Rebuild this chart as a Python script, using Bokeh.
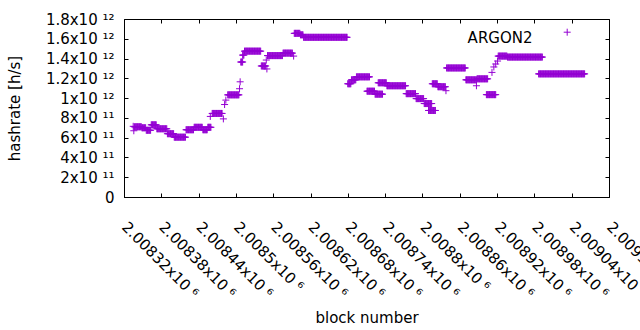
import math
from bokeh.plotting import figure
from bokeh.models import (Range1d, FixedTicker, LinearAxis, CustomJSTickFormatter, Label)
from bokeh.embed import file_html
from bokeh.resources import INLINE

# ---------------- data ----------------
# The hashrate is piecewise constant: each run covers consecutive blocks
# [run_first .. run_last] that all share the same estimated hashrate.
run_first = [2008334, 2008335, 2008336, 2008348, 2008355, 2008363, 2008372, 2008389,
             2008400, 2008419, 2008432, 2008446, 2008454, 2008458, 2008461, 2008479,
             2008481, 2008483, 2008486, 2008505, 2008506, 2008507, 2008510, 2008513,
             2008540, 2008548, 2008549, 2008550, 2008575, 2008592, 2008593, 2008603,
             2008608, 2008679, 2008685, 2008693, 2008710, 2008723, 2008728, 2008742,
             2008773, 2008789, 2008802, 2008809, 2008815, 2008824, 2008837, 2008838,
             2008869, 2008886, 2008887, 2008902, 2008911, 2008914, 2008917, 2008920,
             2008921, 2008936, 2008986]
run_last = [2008334, 2008335, 2008347, 2008354, 2008362, 2008371, 2008388, 2008399,
            2008418, 2008431, 2008445, 2008453, 2008459, 2008458, 2008477, 2008479,
            2008481, 2008483, 2008504, 2008505, 2008506, 2008510, 2008512, 2008539,
            2008547, 2008548, 2008549, 2008574, 2008590, 2008592, 2008602, 2008607,
            2008678, 2008684, 2008692, 2008714, 2008722, 2008735, 2008741, 2008772,
            2008788, 2008801, 2008814, 2008820, 2008823, 2008836, 2008837, 2008868,
            2008886, 2008886, 2008904, 2008917, 2008911, 2008914, 2008917, 2008920,
            2008935, 2008992, 2009060]
run_hashrate = [7.2e11, 6.75e11, 7.15e11, 7.05e11, 6.8e11, 7.35e11, 6.95e11, 6.45e11,
                6.1e11, 6.85e11, 7.1e11, 6.85e11, 7.1e11, 8.2e11, 8.5e11, 7.95e11,
                9.4e11, 9.85e11, 10.38e11, 11.0e11, 11.7e11, 13.7e11, 14.4e11, 14.8e11,
                13.3e11, 13.9e11, 13.0e11, 14.35e11, 14.6e11, 14.3e11, 16.6e11, 16.45e11,
                16.2e11, 11.5e11, 11.9e11, 12.2e11, 10.75e11, 10.45e11, 11.6e11, 11.3e11,
                10.5e11, 10.0e11, 9.5e11, 8.8e11, 11.5e11, 11.2e11, 10.8e11, 13.1e11,
                11.9e11, 11.3e11, 12.0e11, 10.4e11, 12.65e11, 13.2e11, 13.5e11, 13.8e11,
                14.3e11, 14.2e11, 12.5e11]

xtick_blocks = [2008320, 2008380, 2008440, 2008500, 2008560, 2008620, 2008680,
                2008740, 2008800, 2008860, 2008920, 2008980, 2009040, 2009100]
xtick_mantissa = ["2.00832x10", "2.00838x10", "2.00844x10", "2.0085x10", "2.00856x10",
                  "2.00862x10", "2.00868x10", "2.00874x10", "2.0088x10", "2.00886x10",
                  "2.00892x10", "2.00898x10", "2.00904x10", "2.0091x10"]
xtick_exponent = ["6"] * len(xtick_mantissa)

ytick_values = [0, 2e11, 4e11, 6e11, 8e11, 1e12, 1.2e12, 1.4e12, 1.6e12, 1.8e12]
ytick_mantissa = ["0", "2x10", "4x10", "6x10", "8x10", "1x10", "1.2x10", "1.4x10",
                  "1.6x10", "1.8x10"]
ytick_exponent = ["", "11", "11", "11", "11", "12", "12", "12", "12", "12"]

series_name = "ARGON2"
x_title = "block number"
y_title = "hashrate [h/s]"

# ---------------- expand runs into one point per block ----------------
blocks, rates = [], []
for a, b, v in zip(run_first, run_last, run_hashrate):
    for blk in range(a, b + 1):
        blocks.append(blk)
        rates.append(v)

X0, X1 = xtick_blocks[0], xtick_blocks[-1]
Y0, Y1 = ytick_values[0], ytick_values[-1]

FONT = "DejaVu Sans"
FS = "15px"
COLOR = "#9400D3"
SUPER = str.maketrans("0123456789", "\u2070\u00b9\u00b2\u00b3\u2074\u2075\u2076\u2077\u2078\u2079")


def tick_text(m, e):
    return m + (" " + e.translate(SUPER) if e else "")


p = figure(width=640, height=330, output_backend="svg", toolbar_location=None,
           x_range=Range1d(X0, X1), y_range=Range1d(Y0, Y1),
           x_axis_type=None, y_axis_type=None,
           min_border_left=124, min_border_right=31, min_border_top=19,
           min_border_bottom=119)
p.outline_line_color = None
p.background_fill_color = "white"
p.border_fill_color = "white"

# The formatter looks labels up by tick value; extra (duplicate) ticks after the
# real ones get an empty label, so the last real slanted label is not pushed
# back inside the canvas and is simply cut at the edge, as in the reference.
LOOKUP = """
const i = vals.indexOf(tick);
return (index < vals.length && i >= 0) ? texts[i] : '';
"""


def make_axis(ticks, texts=None):
    if texts is None:
        fmt = CustomJSTickFormatter(code="return ''")
        tick_list = list(ticks)
    else:
        fmt = CustomJSTickFormatter(args=dict(vals=list(ticks), texts=texts), code=LOOKUP)
        tick_list = list(ticks) + [ticks[0]]
    ax = LinearAxis(ticker=FixedTicker(ticks=tick_list), formatter=fmt,
                    major_tick_in=4, major_tick_out=0,
                    minor_tick_in=0, minor_tick_out=0,
                    axis_line_color="black", major_tick_line_color="black",
                    axis_line_width=1, major_tick_line_width=1,
                    major_label_text_font=FONT, major_label_text_font_size=FS,
                    major_label_text_color="black",
                    axis_label_text_font=FONT, axis_label_text_font_size=FS,
                    axis_label_text_font_style="normal", axis_label_text_color="black")
    if texts is None:
        ax.major_label_standoff = 0
    return ax


xlabel_texts = [tick_text(m, e) for m, e in zip(xtick_mantissa, xtick_exponent)]
ylabel_texts = [tick_text(m, e) for m, e in zip(ytick_mantissa, ytick_exponent)]

bottom = make_axis(xtick_blocks, xlabel_texts)
bottom.major_label_orientation = -math.pi / 4
bottom.major_label_standoff = 27
bottom.axis_label = x_title
bottom.axis_label_standoff = -2
left = make_axis(ytick_values, ylabel_texts)
left.major_label_standoff = 10
left.axis_label = y_title
left.axis_label_standoff = 19

p.add_layout(bottom, "below")
p.add_layout(make_axis(xtick_blocks), "above")
p.add_layout(left, "left")
p.add_layout(make_axis(ytick_values), "right")

p.scatter(blocks, rates, marker="cross", size=7, line_color=COLOR, line_width=1)

# ---------------- key (label left of sample, gnuplot style) ----------------
p.add_layout(Label(x=X1, y=Y1, x_offset=-77, y_offset=-18.3, text=series_name,
                   text_align="right", text_baseline="alphabetic",
                   text_font=FONT, text_font_size=FS, text_color="black"))
key_x = X1 - (X1 - X0) * 42.3 / 485.0
key_y = Y1 - (Y1 - Y0) * 13.7 / 192.0
p.scatter([key_x], [key_y], marker="cross", size=7, line_color=COLOR, line_width=1)

open("out.html", "w").write(file_html(p, INLINE))
